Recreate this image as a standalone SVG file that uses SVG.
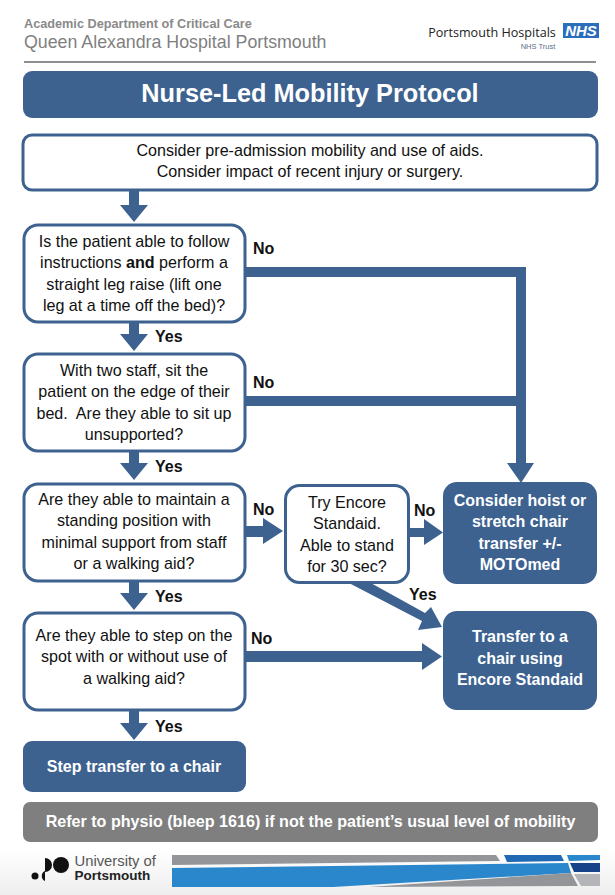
<svg xmlns="http://www.w3.org/2000/svg" width="615" height="895" viewBox="0 0 615 895">
<style>
text{font-family:"Liberation Sans",Arial,sans-serif;text-anchor:middle}
.q rect{fill:#fff;stroke:#3d6290;stroke-width:3}
.q text{font-size:16.1px;fill:#111}
.a rect{fill:#3d6290}
.a text{font-size:16px;font-weight:bold;fill:#fff}
.l{font-size:16px;font-weight:bold;fill:#111;text-anchor:start}
#connectors path{fill:#3d6290}
</style>
<defs><linearGradient id="fade" x1="0" y1="0" x2="0" y2="1"><stop offset="0" stop-color="#fff"/><stop offset="1" stop-color="#eeeeee"/></linearGradient></defs>
<rect width="615" height="895" fill="#fff"/>
<rect y="850" width="615" height="45" fill="url(#fade)"/>
<g id="header">
<text x="24" y="28" style="text-anchor:start;font-size:12.7px;font-weight:bold;fill:#8a8a8a">Academic Department of Critical Care</text>
<text x="24" y="48" style="text-anchor:start;font-size:17.8px;fill:#7f7f7f">Queen Alexandra Hospital Portsmouth</text>
<text x="492" y="37" style="font-size:12.6px;font-family:'Open Sans','Liberation Sans',sans-serif;fill:#222">Portsmouth Hospitals</text>
<rect x="563" y="23" width="36" height="15" fill="#2a6ebb"/>
<text x="581" y="36" style="font-size:15px;font-weight:bold;font-style:italic;fill:#fff">NHS</text>
<text x="538" y="49" style="font-size:7.500px;fill:#5a6f8c">NHS Trust</text>
<rect x="24" y="61" width="572" height="2" fill="#8f8f8f"/>
</g>
<g id="title" class="a"><rect x="23" y="71" width="575" height="47" rx="9"/><text x="310" y="102" style="font-size:25.300px">Nurse-Led Mobility Protocol</text></g>
<g id="connectors">
<path d="M129 191H139V205H148L134 222L120 205H129Z"/>
<path d="M129 322H139V334H148L134 351L120 334H129Z"/>
<path d="M129 451H139V463H148L134 480L120 463H129Z"/>
<path d="M129 581H139V593H148L134 610L120 593H129Z"/>
<path d="M129 710H139V723H148L134 740L120 723H129Z"/>
<path d="M246 267H526V463H534L521 483L507 463H516V277H246Z"/>
<path d="M246 396H516V406H246Z"/>
<path d="M246 526H263V518L283 531L263 544V537H246Z"/>
<path d="M409 528H424V519L443 532.500L424 545V537H409Z"/>
<path d="M347 582H369L425 613L431 607L442 627L418 630L422 621Z"/>
<path d="M246 651H422V643L442 656.500L422 670V662H246Z"/>
</g>
<g id="n1" class="q"><rect x="23" y="135" width="574" height="55" rx="9"/><text x="310" y="156">Consider pre-admission mobility and use of aids.</text><text x="310" y="177">Consider impact of recent injury or surgery.</text></g>
<g id="n2" class="q"><rect x="24" y="225" width="221" height="97" rx="14"/><text x="134" y="247">Is the patient able to follow</text><text x="134" y="268">instructions <tspan font-weight="bold">and</tspan> perform a</text><text x="134" y="290">straight leg raise (lift one</text><text x="134" y="311">leg at a time off the bed)?</text></g>
<g id="n3" class="q"><rect x="24" y="354" width="221" height="97" rx="14"/><text x="134" y="376">With two staff, sit the</text><text x="134" y="397">patient on the edge of their</text><text x="134" y="419">bed.&#160; Are they able to sit up</text><text x="134" y="440">unsupported?</text></g>
<g id="n4" class="q"><rect x="24" y="484" width="221" height="97" rx="14"/><text x="134" y="505">Are they able to maintain a</text><text x="134" y="526">standing position with</text><text x="134" y="548">minimal support from staff</text><text x="134" y="569">or a walking aid?</text></g>
<g id="n5" class="q"><rect x="24" y="613" width="221" height="97" rx="14"/><text x="134" y="641">Are they able to step on the</text><text x="134" y="662">spot with or without use of</text><text x="134" y="684">a walking aid?</text></g>
<g id="n6" class="q"><rect x="285.500" y="485.500" width="123" height="97" rx="14"/><text x="347" y="508">Try Encore</text><text x="347" y="529">Standaid.</text><text x="347" y="551">Able to stand</text><text x="347" y="572">for 30 sec?</text></g>
<g id="n7" class="a"><rect x="443" y="482" width="154" height="102" rx="14"/><text x="520" y="506">Consider hoist or</text><text x="520" y="527">stretch chair</text><text x="520" y="549">transfer +/-</text><text x="520" y="570">MOTOmed</text></g>
<g id="n8" class="a"><rect x="443" y="611" width="154" height="99" rx="14"/><text x="520" y="642">Transfer to a</text><text x="520" y="664">chair using</text><text x="520" y="685">Encore Standaid</text></g>
<g id="n9" class="a"><rect x="23" y="741" width="223" height="51" rx="9"/><text x="134" y="772">Step transfer to a chair</text></g>
<g id="n10" class="a"><rect x="23" y="802" width="575" height="40" rx="7" style="fill:#7f7f7f"/><text x="310.500" y="827" style="font-size:16.100px">Refer to physio (bleep 1616) if not the patient’s usual level of mobility</text></g>
<g id="labels">
<text class="l" x="253" y="254">No</text><text class="l" x="253" y="388">No</text><text class="l" x="253" y="515">No</text><text class="l" x="414" y="516">No</text><text class="l" x="251" y="644">No</text>
<text class="l" x="155" y="342">Yes</text><text class="l" x="155" y="472">Yes</text><text class="l" x="155" y="602">Yes</text><text class="l" x="155" y="732">Yes</text><text class="l" x="409" y="600">Yes</text>
</g>
<g id="footer">
<circle cx="35" cy="876" r="3.500" fill="#111"/><path d="M45 871A5.500 5.500 0 0 0 45 881Z" fill="#111"/>
<path d="M45 858A7 7 0 0 1 45 872Z" fill="#111"/><circle cx="61" cy="865" r="8" fill="#111"/>
<text x="74.500" y="866" style="text-anchor:start;font-size:14.800px;fill:#555">University of</text>
<text x="74.500" y="880" style="text-anchor:start;font-size:13.500px;font-weight:bold;fill:#222">Portsmouth</text>
<path d="M172 855H496L500 861L172 865Z" fill="#939598"/>
<path d="M172 868L568 863L571 873L333 887H172Z" fill="#2a87cc"/>
<path d="M369 887L571 873L578 886Z" fill="#939598"/>
<path d="M504 855H561L564 861L507 862Z" fill="#2168b5"/>
<path d="M567 855H600V860L569 861Z" fill="#2a87cc"/>
<path d="M570 863H600V872L574 872Z" fill="#16428a"/>
<path d="M574 874H600V886H581Z" fill="#b3b5b8"/>
</g>
</svg>
